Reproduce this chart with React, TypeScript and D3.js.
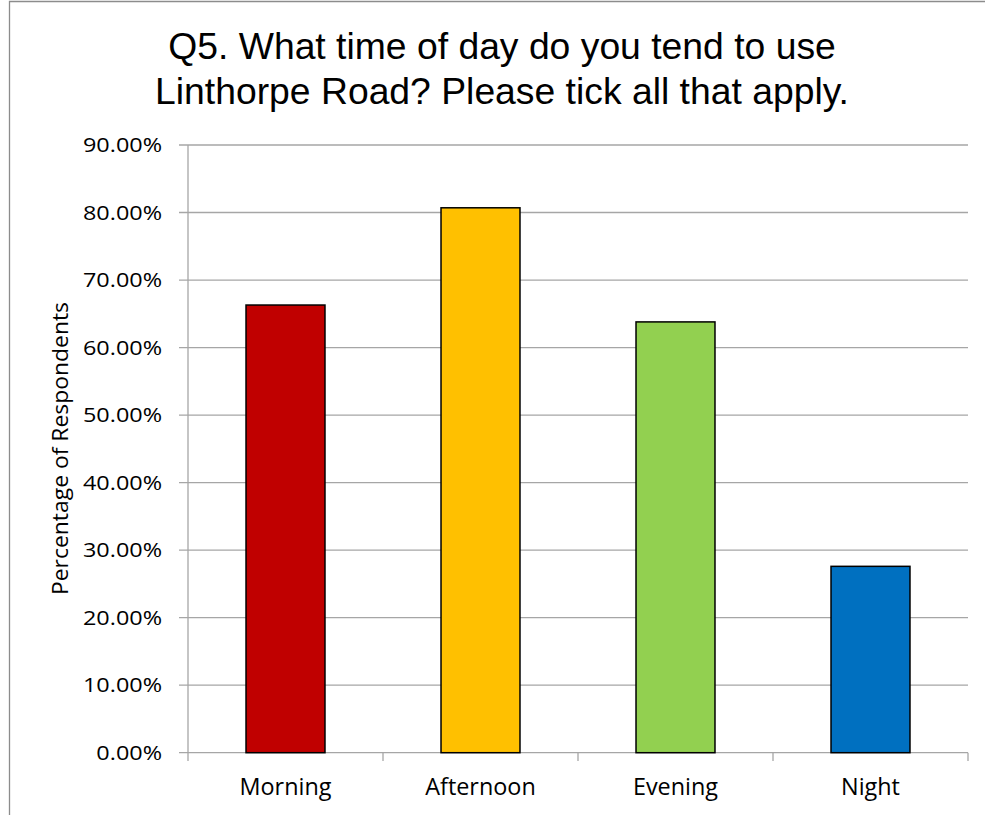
import React from "react";
import * as d3 from "d3";

const categories = ["Morning", "Afternoon", "Evening", "Night"];
const values = [0.663, 0.807, 0.638, 0.276];
const colors = ["#C00000", "#FFC000", "#92D050", "#0070C0"];
const yTicks = [0, 0.1, 0.2, 0.3, 0.4, 0.5, 0.6, 0.7, 0.8, 0.9];
const titleLines = ["Q5. What time of day do you tend to use", "Linthorpe Road? Please tick all that apply."];
const yAxisTitle = "Percentage of Respondents";

const W = 985, H = 815;
const left = 188, right = 968, top = 145, bottom = 752.7;
const labelFont = "'Open Sans', Lato, sans-serif";

// approximate Calibri advance widths (em) for tick label fitting
const cw: Record<string, number> = { "0": 0.507, "1": 0.507, "2": 0.507, "3": 0.507, "4": 0.507, "5": 0.507, "6": 0.507, "7": 0.507, "8": 0.507, "9": 0.507, ".": 0.252, "%": 0.715 };
const tickWidth = (s: string) => s.split("").reduce((a, c) => a + (cw[c] ?? 0.5), 0) * 26.38;

export default function App() {
  const x = d3.scaleBand<string>().domain(categories).range([left, right]).paddingInner(0.595).paddingOuter(0.2975);
  const xb = d3.scaleBand<string>().domain(categories).range([left, right]);
  const y = d3.scaleLinear().domain([0, 0.9]).range([bottom, top]);
  const fmt = (v: number) => (v * 100).toFixed(2) + "%";
  const tickXs = [left, ...categories.map((c) => (xb(c) as number) + xb.bandwidth())];
  return (
    <svg width={W} height={H} style={{ position: "absolute", left: 0, top: 0, background: "#fff" }}>
      <rect x={0} y={0} width={W} height={H} fill="#fff" />
      <path d={`M9.5,${H + 5} V1.5 H${W + 5}`} fill="none" stroke="#8c8c8c" strokeWidth={1.3} />
      {titleLines.map((t, i) => (
        <text key={i} x={502} y={59.3 + i * 45} textAnchor="middle" fontFamily="'Liberation Sans', Arial, sans-serif" fontSize={37.3} fill="#000">
          {t}
        </text>
      ))}
      {yTicks.map((t) => (
        <g key={t}>
          <line x1={179} x2={right} y1={y(t)} y2={y(t)} stroke="#a6a6a6" strokeWidth={1.3} />
          <text x={162 - tickWidth(fmt(t))} y={y(t)} dy="0.36em" textLength={tickWidth(fmt(t))} lengthAdjust="spacingAndGlyphs" fontFamily={labelFont} fontSize={19.5} fill="#000">
            {fmt(t)}
          </text>
        </g>
      ))}
      <line x1={left} x2={left} y1={top} y2={bottom} stroke="#a6a6a6" strokeWidth={1.3} />
      {tickXs.map((tx, i) => (
        <line key={i} x1={tx} x2={tx} y1={bottom} y2={761} stroke="#a6a6a6" strokeWidth={1.3} />
      ))}
      {categories.map((c, i) => (
        <rect key={c} x={x(c)} y={y(values[i])} width={x.bandwidth()} height={bottom - y(values[i])} fill={colors[i]} stroke="#000" strokeWidth={1.5} />
      ))}
      {categories.map((c) => (
        <text key={c} x={(xb(c) as number) + xb.bandwidth() / 2} y={794.5} textAnchor="middle" fontFamily={labelFont} fontSize={23.4} fill="#000">
          {c}
        </text>
      ))}
      <text transform={`translate(68,595) rotate(-90)`} textLength={293} lengthAdjust="spacingAndGlyphs" fontFamily={labelFont} fontSize={21} fill="#000">
        {yAxisTitle}
      </text>
    </svg>
  );
}
